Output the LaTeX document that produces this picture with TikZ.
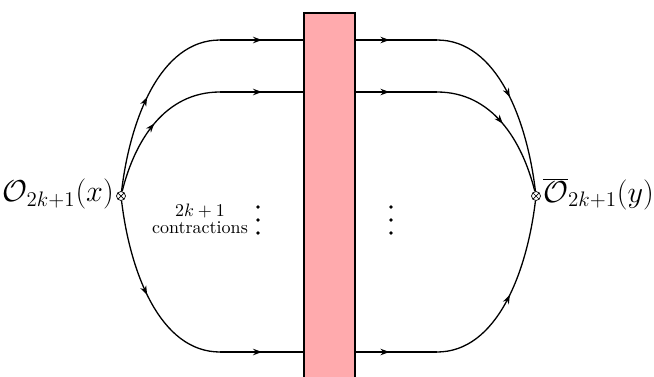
\documentclass[tikz,border=0pt]{standalone}
\usetikzlibrary{arrows.meta,decorations.markings}
\definecolor{barpink}{RGB}{255,170,173}
\begin{document}
\begin{tikzpicture}[x=1pt,y=-1pt,
  line/.style={line width=1.3pt,
    postaction={decorate},
    decoration={markings,mark=at position #1 with {\arrow{Stealth[length=9pt,width=6.5pt]}}}},
  line/.default=0.5,
  otimes/.style={circle,draw,line width=0.7pt,minimum size=9pt,inner sep=0pt,
    path picture={\draw[line width=0.7pt] (path picture bounding box.north west) -- (path picture bounding box.south east)
      (path picture bounding box.north east) -- (path picture bounding box.south west);}},
  dot/.style={circle,fill,inner sep=0pt,minimum size=3.6pt},
  lbl/.style={font=\LARGE,scale=1.75,inner sep=0.5pt},
  small/.style={scale=1.8,inner sep=0pt}
]
\useasboundingbox (0,0) rectangle (654,376);
% bar
\draw[fill=barpink,line width=1.3pt] (304,13) rectangle (355,390);
\coordinate (bar) at (329,13);
% vertices
\node[otimes] (L) at (121,196) {};
\node[otimes] (R) at (536,196) {};
\node[lbl,anchor=east] (Ltxt) at (115,194) {$\mathcal{O}_{2k+1}(x)$};
\node[lbl,anchor=west] (Rtxt) at (542,194) {$\overline{\mathcal{O}}_{2k+1}(y)$};
% coordinates
\coordinate (a1) at (220,40);  \coordinate (b1) at (304,40);
\coordinate (a2) at (220,92);  \coordinate (b2) at (304,92);
\coordinate (a3) at (220,352); \coordinate (b3) at (304,352);
\coordinate (c1) at (355,40);  \coordinate (d1) at (437,40);
\coordinate (c2) at (355,92);  \coordinate (d2) at (437,92);
\coordinate (c3) at (355,352); \coordinate (d3) at (437,352);
% left curves
\draw[line] (L) .. controls (130,120) and (160,40) .. (a1);
\draw[line] (L) .. controls (135,140) and (165,92) .. (a2);
\draw[line] (L) .. controls (130,272) and (160,352) .. (a3);
\draw[line] (a1) -- (b1);
\draw[line] (a2) -- (b2);
\draw[line] (a3) -- (b3);
% right
\draw[line=0.42] (c1) -- (d1);
\draw[line=0.42] (c2) -- (d2);
\draw[line=0.42] (c3) -- (d3);
\draw[line] (d1) .. controls (497,40) and (527,120) .. (R);
\draw[line] (d2) .. controls (492,92) and (522,140) .. (R);
\draw[line] (d3) .. controls (497,352) and (527,272) .. (R);
% text
\node[small,anchor=base] (k) at (200,216) {$2k+1$};
\node[small,anchor=base] (cnt) at (200,233) {contractions};
\node[dot] (p1) at (258,207) {};
\node[dot] (p2) at (258,220) {};
\node[dot] (p3) at (258,233) {};
\node[dot] (q1) at (391,207) {};
\node[dot] (q2) at (391,220) {};
\node[dot] (q3) at (391,233) {};
\end{tikzpicture}
\end{document}
